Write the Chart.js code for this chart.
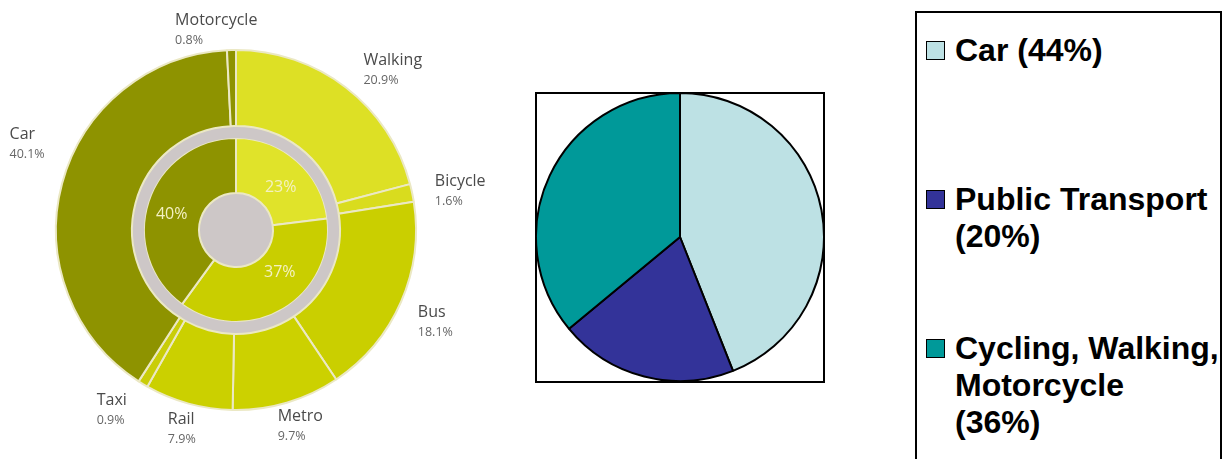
<!DOCTYPE html>
<html>
<head>
<meta charset="utf-8">
<script src="https://cdn.jsdelivr.net/npm/chart.js@4.4.1/dist/chart.umd.min.js"></script>
<style>
  body { margin: 0; background: #fff; width: 1227px; height: 459px; overflow: hidden; position: relative; }
  #modes { position: absolute; left: 0; top: 0; }
  #pieBox { position: absolute; left: 535px; top: 92px; width: 290px; height: 291px; box-sizing: border-box; border: 2px solid #000; }
  #pie { position: absolute; left: 535px; top: 92px; }
  #legend { position: absolute; left: 915px; top: 11px; width: 307px; height: 480px; box-sizing: border-box; border: 2px solid #000;
            font: bold 32px "Liberation Sans", Arial, sans-serif; color: #000; }
  .swatch { position: absolute; left: 9px; width: 19px; height: 19px; box-sizing: border-box; border: 1.5px solid #000; }
  .item { position: absolute; left: 38px; width: 280px; line-height: 37px; white-space: nowrap; }
</style>
</head>
<body>
<canvas id="modes" width="530" height="459"></canvas>
<div id="pieBox"></div>
<canvas id="pie" width="290" height="290"></canvas>
<div id="legend"></div>

<script>
// outer ring: single modes, clockwise from 12 o'clock
const modes = ['Walking', 'Bicycle', 'Bus', 'Metro', 'Rail', 'Taxi', 'Car', 'Motorcycle'];
const modeShare = [20.9, 1.6, 18.1, 9.7, 7.9, 0.9, 40.1, 0.8];
const modeColors = ['#dde025', '#d9dc1e', '#cacf00', '#ccd100', '#cbd000', '#c9cd08', '#8e9300', '#8e9300'];

// inner ring: grouped shares
const groups = ['Walking and cycling', 'Public transport', 'Private vehicles'];
const groupShare = [23, 37, 40];
const groupColors = ['#e0e32a', '#c9ce00', '#8e9300'];

// right pie
const pieLabels = ['Car', 'Public Transport', 'Cycling, Walking,\nMotorcycle'];
const pieShare = [44, 20, 36];
const pieColors = ['#bde1e4', '#333399', '#009999'];

const ringGray = '#cdc7c7';
const seamColor = '#ebe8c4';

// label nudges from the arc's mid point (layout only)
const outerNudge = [[9, -16], [9, -9], [4, 5], [-13, 0], [-17, 2], [-39, 4], [-39, -46], [-56, -16]];
const innerNudge = [[2, 6], [11, -13], [-3, 4]];

const modeLabels = {
  id: 'modeLabels',
  afterDatasetsDraw(chart) {
    const ctx = chart.ctx;
    ctx.save();
    ctx.textAlign = 'left';
    ctx.textBaseline = 'middle';
    chart.getDatasetMeta(0).data.forEach((arc, i) => {
      const p = arc.getProps(['x', 'y', 'startAngle', 'endAngle', 'outerRadius'], true);
      const mid = (p.startAngle + p.endAngle) / 2;
      const r = p.outerRadius + 14;
      const x = p.x + Math.cos(mid) * r + outerNudge[i][0];
      const y = p.y + Math.sin(mid) * r + outerNudge[i][1];
      ctx.font = '16px "Open Sans"';
      ctx.fillStyle = '#4a4a4a';
      ctx.fillText(modes[i], x, y);
      ctx.font = '12.5px "Open Sans"';
      ctx.fillStyle = '#666';
      ctx.fillText(modeShare[i].toFixed(1) + '%', x, y + 20);
    });
    ctx.textAlign = 'center';
    ctx.font = '16px "Open Sans"';
    ctx.fillStyle = '#f4f1c2';
    chart.getDatasetMeta(2).data.forEach((arc, i) => {
      const c = arc.getCenterPoint();
      ctx.fillText(groupShare[i] + '%', c.x + innerNudge[i][0], c.y + innerNudge[i][1]);
    });
    ctx.restore();
  }
};

// gray disc in the hole
const centerDisc = {
  id: 'centerDisc',
  beforeDatasetsDraw(chart) {
    const arc = chart.getDatasetMeta(2).data[0];
    const p = arc.getProps(['x', 'y', 'innerRadius'], true);
    const ctx = chart.ctx;
    ctx.save();
    ctx.fillStyle = ringGray;
    ctx.beginPath();
    ctx.arc(p.x, p.y, p.innerRadius + 1, 0, Math.PI * 2);
    ctx.fill();
    ctx.restore();
  }
};

new Chart(document.getElementById('modes'), {
  type: 'doughnut',
  data: {
    labels: modes,
    datasets: [
      { data: modeShare, backgroundColor: modeColors, borderColor: seamColor, borderWidth: 2, weight: 76 },
      { data: [100], backgroundColor: ringGray, borderWidth: 0, weight: 12 },
      { data: groupShare, backgroundColor: groupColors, borderColor: seamColor, borderWidth: 2, weight: 55 }
    ]
  },
  options: {
    responsive: false,
    animation: false,
    cutout: 37,
    layout: { padding: { left: 55, top: 49, right: 113, bottom: 48 } },
    plugins: { legend: { display: false }, tooltip: { enabled: false } }
  },
  plugins: [centerDisc, modeLabels]
});

new Chart(document.getElementById('pie'), {
  type: 'pie',
  data: {
    labels: pieLabels,
    datasets: [{ data: pieShare, backgroundColor: pieColors, borderColor: '#000', borderWidth: 2 }]
  },
  options: {
    responsive: false,
    animation: false,
    layout: { padding: 0 },
    plugins: { legend: { display: false }, tooltip: { enabled: false } }
  }
});

// boxed legend on the right
const legend = document.getElementById('legend');
pieLabels.forEach((name, i) => {
  const baseline = 62 + 149 * i - 13;
  const sw = document.createElement('div');
  sw.className = 'swatch';
  sw.style.top = (baseline - 21) + 'px';
  sw.style.background = pieColors[i];
  legend.appendChild(sw);
  const item = document.createElement('div');
  item.className = 'item';
  item.style.top = (baseline - 30) + 'px';
  const pct = '(' + pieShare[i] + '%)';
  const lines = name.split('\n');
  // short labels keep the share on the same line, long ones push it below
  const oneLine = lines.length === 1 && name.length < 10;
  lines.forEach((ln, k) => {
    if (k) item.appendChild(document.createElement('br'));
    item.appendChild(document.createTextNode(ln));
  });
  if (!oneLine) item.appendChild(document.createElement('br'));
  item.appendChild(document.createTextNode((oneLine ? ' ' : '') + pct));
  legend.appendChild(item);
});
</script>
</body>
</html>
